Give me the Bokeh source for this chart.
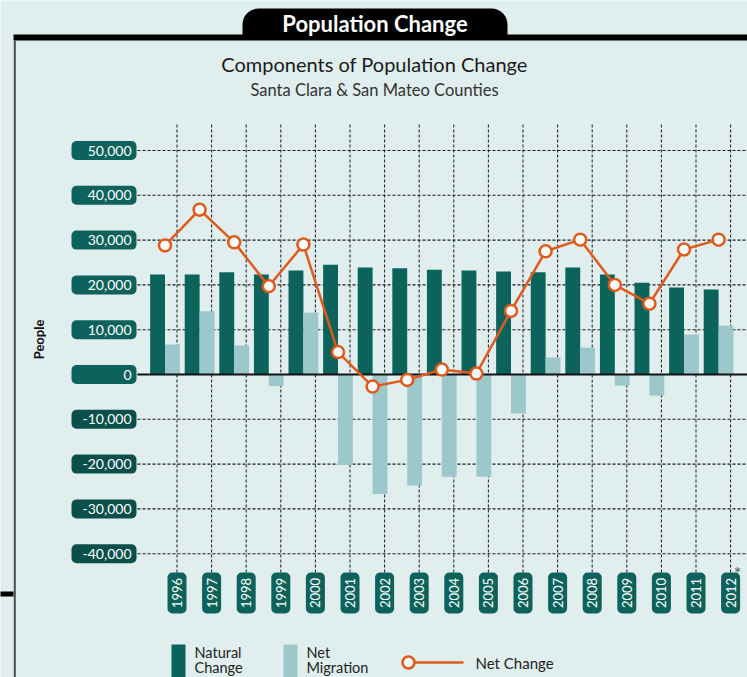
import numpy as np
from bokeh.plotting import figure
from bokeh.models import Range1d, ColumnDataSource
from bokeh.core.properties import value
from bokeh.transform import dodge
from bokeh.embed import file_html
from bokeh.resources import INLINE

# ---------------- data ----------------
years = ["1996", "1997", "1998", "1999", "2000", "2001", "2002", "2003", "2004",
         "2005", "2006", "2007", "2008", "2009", "2010", "2011", "2012"]
natural_change = [22300, 22300, 22800, 22300, 23200, 24500, 23900, 23700, 23400,
                  23200, 23000, 22800, 23900, 22300, 20500, 19400, 19000]
net_migration = [6700, 14100, 6500, -2600, 13800, -20200, -26700, -24800, -22800,
                 -22800, -8700, 3800, 6000, -2500, -4700, 8900, 10900]
net_change = [28800, 36800, 29500, 19700, 29000, 5000, -2700, -1200, 1100,
              200, 14200, 27500, 30100, 20000, 15800, 27900, 30100]
y_ticks = [-40000, -30000, -20000, -10000, 0, 10000, 20000, 30000, 40000, 50000]
y_tick_labels = ["-40,000", "-30,000", "-20,000", "-10,000", "0",
                 "10,000", "20,000", "30,000", "40,000", "50,000"]

# ---------------- layout ----------------
W, H = 747, 677
OFF = 0
X0_PAGE = 164.5      # page x of first category centre
DX = 34.6            # px per category
Y0_PAGE = 374.0      # page y of zero
DY = 44.8 / 10000    # px per person

def x_of(px):
    return (px - X0_PAGE) / DX

def y_of(py):
    return (Y0_PAGE - py) / DY

BG = "#e0eeee"
NAT = "#0b635c"
MIG = "#9dc8cb"
ORANGE = "#e05a1c"
BOX_POS = "#0d625c"
BOX_NEG = "#0a4f4a"
GRID = "#1a1a1a"
FONT = value("Lato")

idx = list(range(len(years)))
TICK_SHIFT = 12 / DX
BAR_W = 0.43

src = ColumnDataSource(dict(idx=idx, year=years, nat=natural_change,
                            mig=net_migration, net=net_change))

p = figure(width=W, height=H, output_backend="svg", toolbar_location=None,
           x_range=Range1d(x_of(OFF), x_of(OFF + W)),
           y_range=Range1d(y_of(OFF + H), y_of(OFF)),
           x_axis_location=None, y_axis_location=None, min_border=0,
           background_fill_color=BG, border_fill_color=BG,
           outline_line_color=None)
p.xgrid.visible = False
p.ygrid.visible = False

# dashed grid lines (bounded like the reference)
xticks = [i + TICK_SHIFT for i in idx]
p.segment(x0=xticks, x1=xticks, y0=y_of(572), y1=y_of(124),
          line_color=GRID, line_dash="3 2", line_width=1)
p.segment(x0=x_of(137), x1=x_of(800), y0=y_ticks, y1=y_ticks,
          line_color=GRID, line_dash="3 2", line_width=1.1)

# bars
p.vbar(x=dodge("idx", -BAR_W / 2, range=p.x_range), top="nat", bottom=0,
       width=BAR_W, source=src, fill_color=NAT, line_color=None)
p.vbar(x=dodge("idx", BAR_W / 2, range=p.x_range), top="mig", bottom=0,
       width=BAR_W, source=src, fill_color=MIG, line_color=None)

# zero line
p.segment(x0=[x_of(137)], y0=[0], x1=[x_of(800)], y1=[0],
          line_color="#111111", line_width=2.2)

# net change line
p.line("idx", "net", source=src, line_color=ORANGE, line_width=2.5)
p.scatter("idx", "net", source=src, marker="circle", size=12,
          fill_color="white", line_color=ORANGE, line_width=2.5)

# y tick boxes + labels
half = 9.5 / DY
p.quad(left=x_of(71), right=x_of(136),
       top=[v + half for v in y_ticks], bottom=[v - half for v in y_ticks],
       fill_color=[BOX_NEG if v < 0 else BOX_POS for v in y_ticks],
       line_color=None, border_radius=5)
p.text(x=x_of(131), y=y_ticks, text=y_tick_labels, text_align="right",
       text_baseline="middle", text_color="white", text_font_size="14px",
       text_font=FONT)

# year boxes + labels
yw = 9.5 / DX
p.quad(left=[x - yw for x in xticks], right=[x + yw for x in xticks],
       top=y_of(572), bottom=y_of(613), fill_color=BOX_POS,
       line_color=None, border_radius=5)
p.text(x=xticks, y=y_of(592.5), text=years, angle=np.pi / 2,
       text_align="center", text_baseline="middle", text_color="white",
       text_font_size="13px", text_font=FONT)
p.text(x=[x_of(737)], y=[y_of(572)], text=["*"], text_align="center",
       text_baseline="middle", text_color="#555555", text_font_size="18px",
       text_font=FONT)

# axis title
p.text(x=[x_of(38)], y=[y_of(339)], text=["People"], angle=np.pi / 2,
       text_align="center", text_baseline="middle", text_color="#111111",
       text_font_size="13px", text_font=FONT, text_font_style="bold")

# header decorations
p.quad(left=x_of(242), right=x_of(507), top=y_of(8), bottom=y_of(37),
       fill_color="black", line_color=None, border_radius=(16, 16, 0, 0))
p.quad(left=x_of(13), right=x_of(800), top=y_of(34), bottom=y_of(40),
       fill_color="black", line_color=None)
p.quad(left=x_of(13.3), right=x_of(15.3), top=y_of(40), bottom=y_of(700),
       fill_color="#4d4d4d", line_color=None)
p.quad(left=x_of(-5), right=x_of(13), top=y_of(591), bottom=y_of(596),
       fill_color="black", line_color=None)
p.text(x=[x_of(374.5)], y=[y_of(23)], text=["Population Change"],
       text_align="center", text_baseline="middle", text_color="white",
       text_font_size="22px", text_font=FONT, text_font_style="bold")

# titles
p.text(x=[x_of(374)], y=[y_of(63)], text=["Components of Population Change"],
       text_align="center", text_baseline="middle", text_color="#1a1a1a",
       text_font_size="20px", text_font=FONT)
p.text(x=[x_of(374)], y=[y_of(89)], text=["Santa Clara & San Mateo Counties"],
       text_align="center", text_baseline="middle", text_color="#333333",
       text_font_size="16.5px", text_font=FONT)

# legend
p.quad(left=[x_of(171), x_of(283)], right=[x_of(185), x_of(297)],
       top=y_of(644), bottom=y_of(700), fill_color=[NAT, MIG], line_color=None)
p.text(x=[x_of(194), x_of(194), x_of(306), x_of(306)],
       y=[y_of(652), y_of(667), y_of(652), y_of(667)],
       text=["Natural", "Change", "Net", "Migration"],
       text_align="left", text_baseline="middle", text_color="#222222",
       text_font_size="14.5px", text_font=FONT)
p.segment(x0=[x_of(408)], y0=[y_of(662)], x1=[x_of(463)], y1=[y_of(662)],
          line_color=ORANGE, line_width=2.5)
p.scatter(x=[x_of(408)], y=[y_of(662)], marker="circle", size=12,
          fill_color="white", line_color=ORANGE, line_width=2.5)
p.text(x=[x_of(475)], y=[y_of(662)], text=["Net Change"], text_align="left",
       text_baseline="middle", text_color="#222222", text_font_size="15px",
       text_font=FONT)

open("out.html", "w").write(file_html(p, INLINE))
